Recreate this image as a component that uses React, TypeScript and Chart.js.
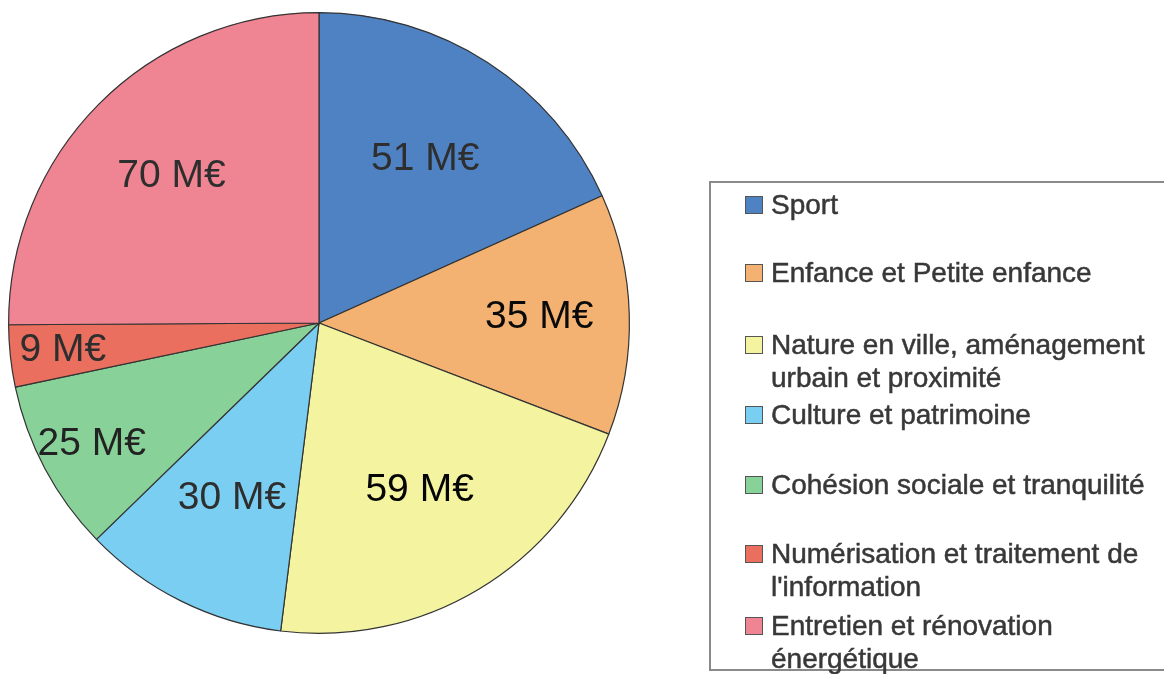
import React, { useEffect, useRef } from "react";
import { Chart, registerables } from "chart.js";

Chart.register(...registerables);

const categories: string[][] = [
  ["Sport"],
  ["Enfance et Petite enfance"],
  ["Nature en ville, aménagement", "urbain et proximité"],
  ["Culture et patrimoine"],
  ["Cohésion sociale et tranquilité"],
  ["Numérisation et traitement de", "l'information"],
  ["Entretien et rénovation", "énergétique"],
];
const values: number[] = [51, 35, 59, 30, 25, 9, 70];
const valueLabels: string[] = ["51 M€", "35 M€", "59 M€", "30 M€", "25 M€", "9 M€", "70 M€"];
const colors: string[] = ["#4F82C3", "#F3B271", "#F4F4A0", "#7ACEF1", "#88D29A", "#EA6F5E", "#EF8493"];
const labelColors: string[] = ["#2e2e2e", "#0a0a0a", "#050505", "#2e2e2e", "#222222", "#2e2e2e", "#2e2e2e"];

const labelPlugin = {
  id: "sliceLabels",
  afterDatasetsDraw(chart: any) {
    const ctx = chart.ctx;
    const meta = chart.getDatasetMeta(0);
    const total = values.reduce((a, b) => a + b, 0);
    ctx.save();
    ctx.font = "39px 'Liberation Sans', Arial, sans-serif";
    ctx.textAlign = "center";
    ctx.textBaseline = "middle";
    meta.data.forEach((arc: any, i: number) => {
      const p = arc.getProps(["startAngle", "endAngle", "outerRadius", "x", "y"], true);
      const mid = (p.startAngle + p.endAngle) / 2;
      const frac = values[i] / total;
      const f = frac < 0.1 ? 0.83 : frac < 0.12 ? 0.63 : frac < 0.15 ? 0.71 : frac > 0.24 ? 0.67 : 0.63;
      const x = p.x + Math.cos(mid) * p.outerRadius * f;
      const y = p.y + Math.sin(mid) * p.outerRadius * f;
      ctx.fillStyle = labelColors[i];
      ctx.fillText(valueLabels[i], x, y);
    });
    ctx.restore();
  },
};

export default function App() {
  const ref = useRef<HTMLCanvasElement | null>(null);
  useEffect(() => {
    if (!ref.current) return;
    const chart = new Chart(ref.current, {
      type: "pie",
      data: {
        labels: categories.map((c) => c.join(" ")),
        datasets: [
          {
            data: values,
            backgroundColor: colors,
            borderColor: "#333333",
            borderWidth: 1.2,
          },
        ],
      },
      options: {
        animation: false,
        responsive: false,
        maintainAspectRatio: false,
        layout: { padding: { left: 8, top: 12, right: 534, bottom: 40 } },
        plugins: {
          legend: { display: false },
          tooltip: { enabled: false },
        },
      },
      plugins: [labelPlugin],
    });
    return () => chart.destroy();
  }, []);

  const itemCenters = [204, 272, 344, 414, 484, 553, 625];

  return (
    <div style={{ position: "fixed", left: 0, top: 0, width: 1164, height: 674, background: "#fff", overflow: "hidden" }}>
      <canvas ref={ref} width={1164} height={674} style={{ position: "absolute", left: 0, top: 0, width: 1164, height: 674 }} />
      <div
        style={{
          position: "absolute",
          left: 709,
          top: 181,
          width: 470,
          height: 490,
          border: "2px solid #8a8a8a",
          boxSizing: "border-box",
        }}
      />
      {categories.map((lines, i) => (
        <div
          key={i}
          style={{
            position: "absolute",
            left: 745,
            top: itemCenters[i] - 16.5,
            display: "flex",
            alignItems: "flex-start",
            fontFamily: "'Liberation Sans', Arial, sans-serif",
            fontSize: 28,
            lineHeight: "33px",
            color: "#383838",
            whiteSpace: "nowrap",
            WebkitTextStroke: "0.5px #383838",
          }}
        >
          <div
            style={{
              width: 16,
              height: 16,
              marginTop: 8,
              marginRight: 8,
              background: colors[i],
              border: "1px solid #555",
              flex: "0 0 auto",
            }}
          />
          <div>
            {lines.map((l, j) => (
              <div key={j}>{l}</div>
            ))}
          </div>
        </div>
      ))}
    </div>
  );
}
